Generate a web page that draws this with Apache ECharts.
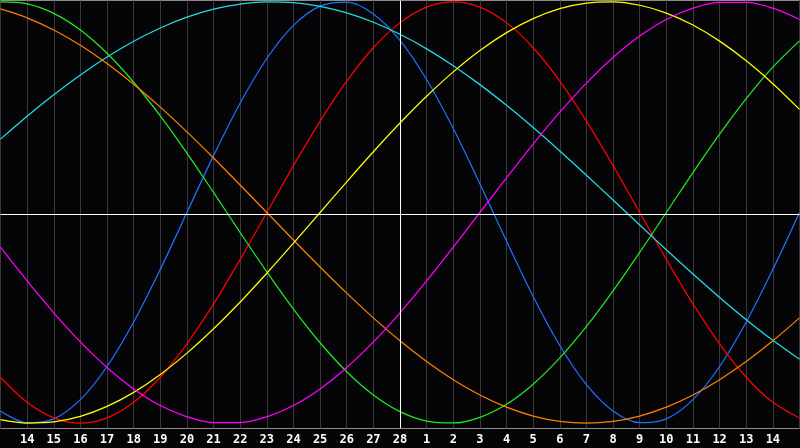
<!DOCTYPE html>
<html>
<head>
<meta charset="utf-8">
<script src="https://cdn.jsdelivr.net/npm/echarts@6/dist/echarts.min.js"></script>
<style>
html,body{margin:0;padding:0;background:#050508;}
#c{width:800px;height:448px;}
</style>
</head>
<body>
<div id="c"></div>
<script>
// Day labels along the bottom (first and last are the unlabeled plot edges)
const dayLabels = ['13','14','15','16','17','18','19','20','21','22','23','24','25','26','27','28',
  '1','2','3','4','5','6','7','8','9','10','11','12','13','14','15'];
const todayLabel = '28';

// Curve values, one per day
const physical = [-0.9423,-0.9977,-0.9791,-0.8879,-0.7308,-0.5196,-0.2698,0,0.2698,0.5196,0.7308,0.8879,0.9791,0.9977,0.9423,0.8170,0.6311,0.3984,0.1362,-0.1362,-0.3984,-0.6311,-0.8170,-0.9423,-0.9977,-0.9791,-0.8879,-0.7308,-0.5196,-0.2698,0];
const emotional = [-0.7818,-0.9010,-0.9749,-1,-0.9749,-0.9010,-0.7818,-0.6235,-0.4339,-0.2225,0,0.2225,0.4339,0.6235,0.7818,0.9010,0.9749,1,0.9749,0.9010,0.7818,0.6235,0.4339,0.2225,0,-0.2225,-0.4339,-0.6235,-0.7818,-0.9010,-0.9749];
const intellectual = [0.9989,0.9898,0.9450,0.8660,0.7557,0.6182,0.4582,0.2817,0.0951,-0.0951,-0.2817,-0.4582,-0.6182,-0.7557,-0.8660,-0.9450,-0.9898,-0.9989,-0.9718,-0.9096,-0.8146,-0.6901,-0.5406,-0.3717,-0.1893,0,0.1893,0.3717,0.5406,0.6901,0.8146];
const intuitive = [-0.1646,-0.3247,-0.4759,-0.6142,-0.7357,-0.8372,-0.9158,-0.9694,-0.9966,-0.9966,-0.9694,-0.9158,-0.8372,-0.7357,-0.6142,-0.4759,-0.3247,-0.1646,0,0.1646,0.3247,0.4759,0.6142,0.7357,0.8372,0.9158,0.9694,0.9966,0.9966,0.9694,0.9158];
const aesthetic = [-0.9834,-0.9993,-0.9940,-0.9675,-0.9203,-0.8536,-0.7686,-0.6673,-0.5517,-0.4245,-0.2881,-0.1456,0,0.1456,0.2881,0.4245,0.5517,0.6673,0.7686,0.8536,0.9203,0.9675,0.9940,0.9993,0.9834,0.9464,0.8894,0.8133,0.7199,0.6112,0.4894];
const awareness = [0.9659,0.9239,0.8660,0.7934,0.7071,0.6088,0.5,0.3827,0.2588,0.1305,0,-0.1305,-0.2588,-0.3827,-0.5,-0.6088,-0.7071,-0.7934,-0.8660,-0.9239,-0.9659,-0.9914,-1,-0.9914,-0.9659,-0.9239,-0.8660,-0.7934,-0.7071,-0.6088,-0.5];
const spiritual = [0.3482,0.4566,0.5586,0.6529,0.7378,0.8125,0.8757,0.9267,0.9646,0.9890,0.9996,0.9960,0.9785,0.9473,0.9028,0.8456,0.7765,0.6966,0.6068,0.5085,0.4031,0.2921,0.1769,0.0592,-0.0592,-0.1769,-0.2921,-0.4031,-0.5085,-0.6068,-0.6966];

const seriesDefs = [
  {name:'Physical', data:physical, color:'#1f6fff'},
  {name:'Emotional', data:emotional, color:'#ff0000'},
  {name:'Intellectual', data:intellectual, color:'#22e822'},
  {name:'Spiritual', data:spiritual, color:'#22dde0'},
  {name:'Awareness', data:awareness, color:'#ff8000'},
  {name:'Aesthetic', data:aesthetic, color:'#ffff00'},
  {name:'Intuitive', data:intuitive, color:'#ff00ff'}
];

const yMin = -1.025, yMax = 1.006;
const yMid = (yMin + yMax) / 2;
const lastIdx = dayLabels.length - 1;

const chart = echarts.init(document.getElementById('c'), null, {renderer:'canvas'});
const series = [{
  type:'line', data:[], silent:true, z:1,
  markLine:{
    silent:true, symbol:'none', animation:false,
    label:{show:false},
    lineStyle:{color:'#ffffff', width:1, type:'solid'},
    data:[{xAxis: todayLabel}, {yAxis: yMid}]
  }
}];
seriesDefs.forEach(function(s){
  series.push({
    name:s.name, type:'line', data:s.data, smooth:0.33,
    showSymbol:false, symbol:'none', z:2,
    lineStyle:{color:s.color, width:1.25},
    itemStyle:{color:s.color}
  });
});

chart.setOption({
  animation:false,
  backgroundColor:'#050508',
  grid:{left:0.5, top:0.5, right:0.5, bottom:19.5, show:true, borderColor:'#8c8c8c', borderWidth:1, backgroundColor:'transparent'},
  xAxis:{
    type:'category', boundaryGap:false, data:dayLabels,
    axisLine:{show:false}, axisTick:{show:false},
    axisLabel:{
      interval:function(i){ return i > 0 && i < lastIdx; },
      color:'#ffffff', fontFamily:'DejaVu Sans Mono', fontWeight:'bold', fontSize:12, margin:5
    },
    splitLine:{show:true, interval:0, lineStyle:{color:'#3a3a3a', width:1}}
  },
  yAxis:{
    type:'value', min:yMin, max:yMax,
    axisLine:{show:false}, axisTick:{show:false}, axisLabel:{show:false}, splitLine:{show:false}
  },
  series:series
});
</script>
</body>
</html>
